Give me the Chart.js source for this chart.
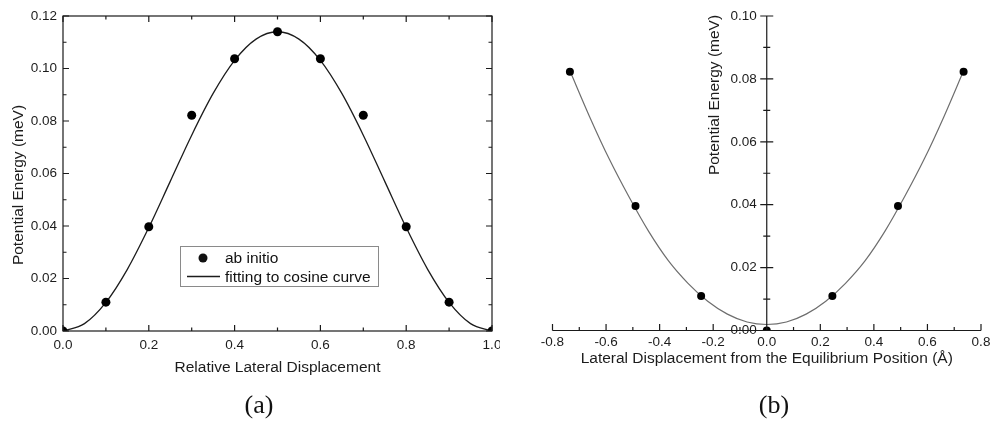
<!DOCTYPE html>
<html>
<head>
<meta charset="utf-8">
<script src="https://cdn.jsdelivr.net/npm/chart.js@4.4.3/dist/chart.umd.min.js"></script>
<style>
  body { margin: 0; background: #fff; width: 990px; height: 423px; overflow: hidden; position: relative; }
  #chartA { position: absolute; left: 0; top: 0; }
  #chartB { position: absolute; left: 500px; top: 0; }
  .panel { position: absolute; transform: translate(-50%, -50%); font-family: "Liberation Serif", "Times New Roman", serif; font-size: 26px; color: #111; }
</style>
</head>
<body>
<canvas id="chartA" width="500" height="423"></canvas>
<canvas id="chartB" width="490" height="423"></canvas>
<div class="panel" style="left:259px; top:405px;">(a)</div>
<div class="panel" style="left:774px; top:405px;">(b)</div>
<script>
// panel (a): relative lateral displacement
const abA_x = [0, 0.1, 0.2, 0.3, 0.4, 0.5, 0.6, 0.7, 0.8, 0.9, 1.0];
const abA_y = [0, 0.0110, 0.0397, 0.0822, 0.1037, 0.1140, 0.1037, 0.0822, 0.0397, 0.0110, 0];
const fitA_x = [0, 0.05, 0.1, 0.15, 0.2, 0.25, 0.3, 0.35, 0.4, 0.45, 0.5,
                0.55, 0.6, 0.65, 0.7, 0.75, 0.8, 0.85, 0.9, 0.95, 1.0];
const fitA_y = [0, 0.0028, 0.0109, 0.0235, 0.0394, 0.0570, 0.0746, 0.0905, 0.1031, 0.1112, 0.1140,
                0.1112, 0.1031, 0.0905, 0.0746, 0.0570, 0.0394, 0.0235, 0.0109, 0.0028, 0];
const xTicksA = [0, 0.2, 0.4, 0.6, 0.8, 1.0];
const yTicksA = [0, 0.02, 0.04, 0.06, 0.08, 0.10, 0.12];

// panel (b): displacement from equilibrium (Å)
const abB_x = [-0.735, -0.49, -0.245, 0, 0.245, 0.49, 0.735];
const abB_y = [0.0823, 0.0396, 0.0110, 0, 0.0110, 0.0396, 0.0823];
const fitB_x = [-0.735, -0.6615, -0.588, -0.5145, -0.441, -0.3675, -0.294, -0.2205, -0.147, -0.0735, 0,
                0.0735, 0.147, 0.2205, 0.294, 0.3675, 0.441, 0.5145, 0.588, 0.6615, 0.735];
const fitB_y = [0.0826, 0.0680, 0.0545, 0.0425, 0.0315, 0.0222, 0.0150, 0.0093, 0.0052, 0.0027, 0.0019,
                0.0027, 0.0052, 0.0093, 0.0150, 0.0222, 0.0315, 0.0425, 0.0545, 0.0680, 0.0826];
const xTicksB = [-0.8, -0.6, -0.4, -0.2, 0, 0.2, 0.4, 0.6, 0.8];
const yTicksB = [0, 0.02, 0.04, 0.06, 0.08, 0.10];

Chart.defaults.font.family = '"Liberation Sans", Arial, sans-serif';
Chart.defaults.color = '#1c1c1c';

const AXIS_COLOR = '#1a1a1a';
const TITLE_FONT = '15.5px "Liberation Sans", Arial, sans-serif';

function toPoints(xs, ys) {
    return xs.map((x, i) => ({ x: x, y: ys[i] }));
}

// majors plus a minor tick halfway between each pair
function withMinor(majors) {
    const out = [];
    majors.forEach((v, i) => {
        out.push({ v: v, major: true });
        if (i < majors.length - 1) out.push({ v: (v + majors[i + 1]) / 2, major: false });
    });
    return out;
}

function fixedTicks(values) {
    return function(scale) {
        scale.ticks = values.map(v => ({ value: v }));
    };
}

// rotated y title, placed freely
const yTitle = {
    id: 'yTitle',
    afterDraw(chart, args, opts) {
        const ctx = chart.ctx;
        ctx.save();
        ctx.translate(opts.x, opts.y);
        ctx.rotate(-Math.PI / 2);
        ctx.font = TITLE_FONT;
        ctx.fillStyle = '#1c1c1c';
        ctx.textAlign = 'center';
        ctx.textBaseline = 'middle';
        ctx.fillText(opts.text, 0, 0);
        ctx.restore();
    }
};

// boxed frame with inward ticks on all four sides
const frameA = {
    id: 'frameA',
    afterDraw(chart) {
        const { ctx, chartArea: a, scales: { x, y } } = chart;
        ctx.save();
        ctx.strokeStyle = AXIS_COLOR;
        ctx.lineWidth = 1.2;
        ctx.strokeRect(a.left, a.top, a.right - a.left, a.bottom - a.top);
        ctx.beginPath();
        withMinor(xTicksA).forEach(t => {
            const px = x.getPixelForValue(t.v);
            const len = t.major ? 6 : 3.5;
            ctx.moveTo(px, a.bottom); ctx.lineTo(px, a.bottom - len);
            ctx.moveTo(px, a.top); ctx.lineTo(px, a.top + len);
        });
        withMinor(yTicksA).forEach(t => {
            const py = y.getPixelForValue(t.v);
            const len = t.major ? 6 : 3.5;
            ctx.moveTo(a.left, py); ctx.lineTo(a.left + len, py);
            ctx.moveTo(a.right, py); ctx.lineTo(a.right - len, py);
        });
        ctx.stroke();
        ctx.restore();
    }
};

const legendA = {
    id: 'legendA',
    afterDraw(chart, args, opts) {
        const ctx = chart.ctx;
        const ds = chart.data.datasets;
        ctx.save();
        ctx.fillStyle = '#fff';
        ctx.fillRect(opts.x, opts.y, opts.w, opts.h);
        ctx.strokeStyle = '#8a8a8a';
        ctx.lineWidth = 1;
        ctx.strokeRect(opts.x + 0.5, opts.y + 0.5, opts.w, opts.h);
        ctx.font = TITLE_FONT;
        ctx.textBaseline = 'middle';
        ctx.fillStyle = '#111';
        const row1 = opts.y + 12, row2 = opts.y + 30.5;
        ctx.beginPath();
        ctx.arc(opts.x + 23, row1, 4.5, 0, Math.PI * 2);
        ctx.fill();
        ctx.fillText(ds[0].label, opts.x + 45, row1 + 1);
        ctx.strokeStyle = ds[1].borderColor;
        ctx.lineWidth = 1.4;
        ctx.beginPath();
        ctx.moveTo(opts.x + 7, row2); ctx.lineTo(opts.x + 40, row2);
        ctx.stroke();
        ctx.fillText(ds[1].label, opts.x + 45, row2 + 1);
        ctx.restore();
    }
};

// crossing axes at the origin for panel (b)
const axesB = {
    id: 'axesB',
    afterDraw(chart) {
        const { ctx, chartArea: a, scales: { x, y } } = chart;
        const x0 = x.getPixelForValue(0);
        const y0 = y.getPixelForValue(0);
        ctx.save();
        ctx.strokeStyle = AXIS_COLOR;
        ctx.lineWidth = 1.2;
        ctx.beginPath();
        ctx.moveTo(a.left, y0); ctx.lineTo(a.right, y0);
        ctx.moveTo(x0, a.top); ctx.lineTo(x0, a.bottom);
        withMinor(xTicksB).forEach(t => {
            const px = x.getPixelForValue(t.v);
            ctx.moveTo(px, y0); ctx.lineTo(px, y0 - (t.major ? 6.5 : 3.5));
        });
        withMinor(yTicksB).forEach(t => {
            const py = y.getPixelForValue(t.v);
            const len = t.major ? 6.5 : 3.5;
            ctx.moveTo(x0 - len, py); ctx.lineTo(x0 + len, py);
        });
        ctx.stroke();
        ctx.restore();
    }
};

const tickFont = { size: 13.5 };
const titleFont = { size: 15.5 };

new Chart(document.getElementById('chartA'), {
    type: 'scatter',
    data: {
        datasets: [{
            label: 'ab initio',
            data: toPoints(abA_x, abA_y),
            pointRadius: 4.5,
            pointBackgroundColor: '#000',
            pointBorderWidth: 0,
            clip: 0
        }, {
            label: 'fitting to cosine curve',
            data: toPoints(fitA_x, fitA_y),
            showLine: true,
            pointRadius: 0,
            borderColor: '#1c1c1c',
            borderWidth: 1.3,
            cubicInterpolationMode: 'monotone'
        }]
    },
    options: {
        responsive: false,
        animation: false,
        devicePixelRatio: 1,
        events: [],
        layout: { padding: { left: 0, top: 16, right: 8, bottom: 42 } },
        plugins: {
            legend: { display: false },
            tooltip: { enabled: false },
            yTitle: { text: 'Potential Energy (meV)', x: 18.5, y: 185 },
            legendA: { x: 180, y: 246, w: 198, h: 40 }
        },
        scales: {
            x: {
                type: 'linear', min: 0, max: 1,
                grid: { display: false, drawTicks: false }, border: { display: false },
                afterBuildTicks: fixedTicks(xTicksA),
                ticks: { font: tickFont, padding: 6, maxRotation: 0, callback: v => v.toFixed(1) },
                title: { display: true, text: 'Relative Lateral Displacement', font: titleFont, color: '#1c1c1c' },
                afterFit(scale) { scale.height = 50; scale.paddingLeft = 0; scale.paddingRight = 0; }
            },
            y: {
                type: 'linear', min: 0, max: 0.12,
                grid: { display: false, drawTicks: false }, border: { display: false },
                afterBuildTicks: fixedTicks(yTicksA),
                ticks: { font: tickFont, padding: 6, callback: v => v.toFixed(2) },
                afterFit(scale) { scale.width = 63; scale.paddingTop = 0; scale.paddingBottom = 0; }
            }
        }
    },
    plugins: [frameA, legendA, yTitle]
});

new Chart(document.getElementById('chartB'), {
    type: 'scatter',
    data: {
        datasets: [{
            label: 'ab initio',
            data: toPoints(abB_x, abB_y),
            pointRadius: 4,
            pointBackgroundColor: '#000',
            pointBorderWidth: 0,
            clip: { left: 10, top: 10, right: 10, bottom: 0 }
        }, {
            label: 'fit',
            data: toPoints(fitB_x, fitB_y),
            showLine: true,
            pointRadius: 0,
            borderColor: '#6e6e6e',
            borderWidth: 1.2,
            cubicInterpolationMode: 'monotone'
        }]
    },
    options: {
        responsive: false,
        animation: false,
        devicePixelRatio: 1,
        events: [],
        layout: { padding: { left: 52.5, top: 16, right: 9, bottom: 92.5 } },
        plugins: {
            legend: { display: false },
            tooltip: { enabled: false },
            yTitle: { text: 'Potential Energy (meV)', x: 215, y: 95 }
        },
        scales: {
            x: {
                type: 'linear', min: -0.8, max: 0.8,
                position: { y: 0 },
                grid: { display: false, drawTicks: false }, border: { display: false },
                afterBuildTicks: fixedTicks(xTicksB),
                ticks: { font: tickFont, padding: 4, maxRotation: 0, callback: v => v.toFixed(1) },
                title: { display: true, text: 'Lateral Displacement from the Equilibrium Position (Å)', font: titleFont, color: '#1c1c1c' },
                afterFit(scale) { scale.height = 42; scale.paddingLeft = 0; scale.paddingRight = 0; }
            },
            y: {
                type: 'linear', min: 0, max: 0.10,
                // labels sit just left of the axis at x = 0
                position: { x: -0.037 },
                grid: { display: false, drawTicks: false }, border: { display: false },
                afterBuildTicks: fixedTicks(yTicksB),
                ticks: { font: tickFont, callback: v => v.toFixed(2) },
                afterFit(scale) { scale.width = 0; scale.paddingTop = 0; scale.paddingBottom = 0; }
            }
        }
    },
    plugins: [axesB, yTitle]
});
</script>
</body>
</html>
